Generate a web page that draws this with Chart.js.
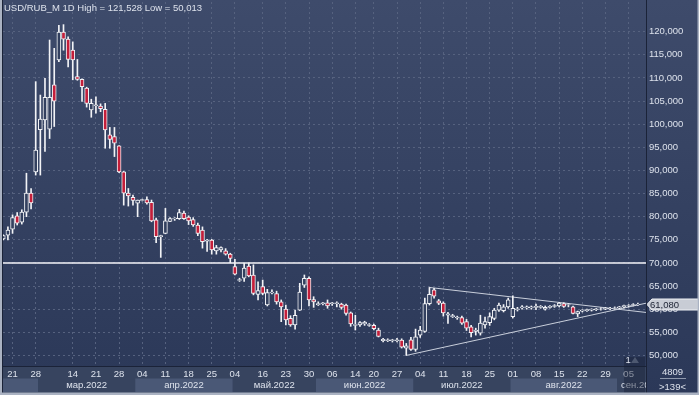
<!DOCTYPE html>
<html lang="ru">
<head>
  <meta charset="UTF-8" />
  <title>USD/RUB_M 1D</title>
  <script src="https://cdn.jsdelivr.net/npm/chart.js"></script>
  <style>
    html, body { margin: 0; padding: 0; background: #2f3c5c; }
    #wrap { width: 699px; height: 395px; position: relative; }
  </style>
</head>
<body>
  <div id="wrap"><canvas id="chart"></canvas></div>

  <script>
    // daily candles, prices in thousands of roubles (17.02.2022 .. 07.09.2022)
    const opens = [
      75.2, 76.0, 77.3, 80.2, 78.8, 81.0, 85.1, 89.7, 98.8, 100.9,
      98.9, 108.5, 113.9, 119.9, 118.4, 116.0, 110.3, 109.7, 107.8, 103.1,
      104.0, 103.9, 103.2, 97.7, 97.3, 95.3, 89.7, 85.1, 84.2, 82.9,
      83.5, 83.7, 83.1, 79.3, 75.7, 76.4, 79.0, 79.5, 79.6, 80.8,
      79.9, 79.4, 78.2, 77.1, 74.7, 74.96, 72.6, 72.8, 72.6, 71.9,
      69.2, 66.2, 66.7, 69.3, 67.4, 63.2, 64.9, 60.9, 63.5, 63.4,
      61.6, 60.0, 58.0, 56.6, 59.8, 65.2, 66.7, 62.1, 61.0, 61.2,
      61.4, 61.2, 61.2, 61.1, 60.9, 59.2, 56.5, 56.6, 56.8, 56.5,
      56.5, 55.5, 53.2, 53.2, 53.2, 53.2, 53.3, 51.6, 53.4, 51.3,
      54.4, 55.2, 61.2, 64.2, 61.8, 61.3, 58.7, 58.4, 58.1, 58.2,
      57.3, 56.2, 55.2, 54.8, 56.6, 57.1, 58.0, 59.8, 59.7, 60.5,
      58.4, 59.9, 60.3, 60.3, 60.3, 60.4, 60.4, 60.0, 60.4, 60.6,
      60.7, 61.2, 60.9, 60.5, 59.0, 59.6, 59.7, 59.8, 59.9, 60.0,
      60.0, 60.1, 60.2, 60.3, 60.5, 60.7, 60.8, 61.0
    ];
    const highs = [
      76.1, 77.8, 80.4, 80.9, 81.5, 89.4, 86.1, 109.2, 106.3, 109.9,
      118.2, 116.4, 121.4, 121.528, 118.9, 117.8, 114.0, 109.8, 108.0, 105.4,
      105.9, 104.4, 104.5, 99.3, 99.3, 95.4, 89.8, 86.1, 84.7, 83.6,
      83.8, 84.3, 83.6, 79.7, 76.0, 81.8, 79.8, 79.8, 81.6, 81.2,
      80.2, 79.8, 78.6, 77.8, 75.1, 75.1, 73.8, 73.5, 73.1, 72.1,
      70.8, 66.7, 69.9, 70.0, 69.6, 65.9, 66.3, 64.3, 64.2, 63.9,
      62.0, 60.9, 58.6, 59.8, 65.6, 67.4, 67.0, 62.7, 61.6, 61.5,
      62.0, 61.5, 61.6, 61.3, 61.1, 59.4, 58.7, 57.3, 57.4, 56.9,
      56.8, 55.9, 53.7, 53.6, 53.5, 53.7, 53.6, 52.6, 53.9, 55.7,
      56.3, 62.4, 64.7, 64.5, 62.1, 61.6, 59.3, 58.9, 58.5, 58.5,
      57.8, 56.5, 55.9, 58.7, 58.3, 59.2, 60.2, 61.3, 61.0, 62.4,
      62.9, 60.4, 60.8, 60.7, 60.7, 61.1, 60.8, 60.7, 60.8, 61.0,
      61.5, 61.4, 61.2, 60.7, 59.6, 59.9, 60.0, 60.1, 60.2, 60.3,
      60.4, 60.4, 60.5, 60.6, 60.9, 61.0, 61.2, 61.3
    ];
    const lows = [
      75.0, 75.0, 76.4, 78.2, 78.4, 80.0, 81.7, 89.0, 89.0, 94.1,
      96.9, 99.5, 113.5, 116.0, 112.4, 109.6, 109.5, 104.9, 103.7, 101.5,
      102.4, 102.7, 94.8, 94.8, 93.0, 89.5, 82.5, 82.3, 82.5, 80.0,
      83.4, 82.7, 78.9, 74.4, 71.2, 76.3, 78.9, 79.2, 79.4, 79.4,
      78.3, 77.9, 75.9, 73.2, 72.5, 71.9, 71.9, 72.4, 71.7, 70.05,
      67.4, 66.0, 66.0, 67.0, 63.1, 62.0, 63.1, 60.7, 63.3, 61.1,
      57.3, 56.6, 56.3, 55.7, 59.7, 64.7, 60.7, 60.4, 60.8, 60.9,
      60.2, 60.8, 60.5, 60.0, 58.7, 56.3, 55.5, 56.3, 56.5, 56.3,
      55.5, 54.0, 52.9, 53.0, 52.9, 52.9, 51.6, 50.013, 51.1, 50.9,
      53.9, 55.0, 60.9, 62.4, 61.0, 58.5, 56.9, 58.2, 57.8, 56.7,
      55.4, 54.0, 54.4, 54.4, 55.9, 56.5, 57.7, 59.5, 59.4, 60.2,
      58.1, 59.6, 60.0, 60.0, 60.0, 59.9, 60.2, 59.8, 60.2, 60.4,
      60.5, 60.4, 60.5, 59.0, 58.4, 59.4, 59.5, 59.6, 59.7, 59.8,
      59.9, 59.9, 60.0, 60.1, 60.3, 60.5, 60.7, 60.8
    ];
    const closes = [
      75.9, 77.1, 79.8, 78.6, 81.0, 85.1, 83.0, 94.4, 101.1, 105.8,
      105.8, 105.0, 119.9, 118.4, 114.0, 113.9, 109.7, 108.1, 104.5, 104.5,
      104.2, 103.35, 98.75, 96.7, 95.9, 89.7, 85.1, 84.5, 83.5, 83.6,
      83.7, 83.0, 79.1, 75.7, 75.9, 79.1, 79.6, 79.7, 80.9, 79.6,
      79.1, 78.2, 76.4, 74.6, 74.9, 72.8, 73.3, 73.3, 71.9, 71.0,
      67.6, 66.4, 68.9, 67.2, 63.4, 64.0, 63.4, 63.6, 63.7, 61.6,
      60.5, 57.7, 56.6, 58.7, 63.7, 66.7, 62.0, 61.6, 61.2, 61.4,
      60.7, 61.4, 61.4, 60.4, 59.1, 56.8, 56.7, 57.1, 57.2, 56.7,
      55.8, 54.1, 53.5, 53.4, 53.4, 53.4, 51.8, 52.1, 51.3, 54.0,
      55.5, 61.2, 63.2, 62.8, 61.3, 59.2, 59.0, 58.6, 58.3, 57.0,
      55.9, 54.9, 55.5, 57.0, 57.3, 58.4, 59.8, 60.9, 60.5, 62.0,
      60.2, 60.1, 60.5, 60.5, 60.5, 60.6, 60.6, 60.4, 60.6, 60.8,
      61.3, 60.6, 61.0, 59.1, 59.5, 59.8, 59.9, 60.0, 60.1, 60.1,
      60.2, 60.2, 60.3, 60.5, 60.8, 60.8, 61.0, 61.08
    ];

    // bottom axis: candle index of each labelled day and its text
    const tickIdx = [2, 7, 15, 20, 25, 30, 35, 40, 45, 50, 56, 61, 66, 71, 76, 80, 85,
                     90, 95, 100, 105, 110, 115, 120, 125, 130, 135];
    const tickText = ['21', '28', '14', '21', '28', '04', '11', '18', '25', '04', '16', '23', '30',
                      '06', '14', '20', '27', '04', '11', '18', '25', '01', '08', '15', '22', '29', '05'];
    // month bands: first candle of month and label
    const monthStart = [0, 8, 29, 50, 68, 89, 110, 133];
    const monthText = ['', 'мар.2022', 'апр.2022', 'май.2022', 'июн.2022', 'июл.2022', 'авг.2022', 'сен.2022'];
    const priceTicks = [50, 55, 60, 65, 70, 75, 80, 85, 90, 95, 100, 105, 110, 115, 120];

    // drawn lines: level and triangle
    const levelLine = 70;
    const triUpper = [[92, 64.7], [138.75, 59.3]];
    const triLower = [[87, 50.013], [138.75, 61.3]];
    const lastPrice = 61.08;

    const xMin = -0.06, xMax = 138.75;
    const BG = '#33405f', RED = '#c41e3a', FONT = 'Liberation Sans';
    const fmt = v => v.toFixed(3).replace('.', ',');

    Chart.defaults.font.family = FONT;
    Chart.defaults.font.size = 9.5;
    Chart.defaults.color = '#dde2ec';

    const idx = opens.map((_, i) => i);

    const bgPlugin = {
      id: 'bg',
      beforeDraw(chart) {
        const { ctx, width, height, chartArea: a } = chart;
        const x = chart.scales.x;
        ctx.save();
        const g = ctx.createLinearGradient(0, 0, 0, height);
        g.addColorStop(0, '#3e4b6b');
        g.addColorStop(1, '#2b3858');
        ctx.fillStyle = g;
        ctx.fillRect(0, 0, width, height);
        ctx.fillStyle = '#37445f';
        ctx.fillRect(0, a.bottom, a.right, height - a.bottom);
        // month bands
        ctx.beginPath();
        ctx.rect(a.left, a.bottom, a.right - a.left, height - a.bottom);
        ctx.clip();
        monthStart.forEach((s, k) => {
          if (k % 2 === 1) return;
          const e = k + 1 < monthStart.length ? monthStart[k + 1] : 160;
          const x0 = x.getPixelForValue(s - 0.5), x1 = x.getPixelForValue(e - 0.5);
          ctx.fillStyle = '#4a5876';
          ctx.fillRect(x0, 378.5, x1 - x0, 13.5);
        });
        ctx.restore();
      },
      afterDraw(chart) {
        const { ctx, width, height, chartArea: a } = chart;
        const x = chart.scales.x, y = chart.scales.y;
        ctx.save();
        ctx.font = '9.5px ' + FONT;
        ctx.fillStyle = '#dde2ec';
        ctx.textBaseline = 'middle';
        // month labels
        ctx.save();
        ctx.beginPath();
        ctx.rect(a.left, a.bottom, a.right - a.left, height - a.bottom);
        ctx.clip();
        monthStart.forEach((s, k) => {
          if (!monthText[k]) return;
          const e = k + 1 < monthStart.length ? monthStart[k + 1] : 160;
          const x0 = x.getPixelForValue(s - 0.5);
          const x1 = Math.min(x.getPixelForValue(e - 0.5), a.right);
          const tw = ctx.measureText(monthText[k]).width;
          const tx = Math.max(x0 + 4, (x0 + x1) / 2 - tw / 2);
          ctx.textAlign = 'left';
          ctx.fillText(monthText[k], tx, 385.5);
        });
        ctx.restore();

        // bar counter marker
        ctx.fillStyle = 'rgba(25,33,55,0.45)';
        ctx.fillRect(624, 357, 21, 36);
        ctx.fillStyle = 'rgba(120,130,150,0.5)';
        ctx.beginPath();
        ctx.moveTo(631, 363); ctx.lineTo(635, 357); ctx.lineTo(639, 363); ctx.fill();
        ctx.fillStyle = '#dde2ec';
        ctx.textAlign = 'left';
        ctx.fillText('1', 625.5, 360);

        // title
        ctx.fillText('USD/RUB_M 1D High = 121,528 Low = 50,013', 4, 8.5);

        // last price box
        const py = Math.round(y.getPixelForValue(lastPrice)) + 0.5;
        ctx.beginPath();
        ctx.moveTo(a.right + 1, py);
        ctx.lineTo(a.right + 6, py - 5.5);
        ctx.lineTo(width - 1, py - 5.5);
        ctx.lineTo(width - 1, py + 5.5);
        ctx.lineTo(a.right + 6, py + 5.5);
        ctx.closePath();
        ctx.fillStyle = '#c8ccd5';
        ctx.fill();
        ctx.strokeStyle = '#eef0f4';
        ctx.lineWidth = 1;
        ctx.stroke();
        ctx.fillStyle = '#1c2233';
        ctx.fillText(fmt(lastPrice), a.right + 4, py + 0.5);

        // corner counters
        ctx.fillStyle = '#dde2ec';
        ctx.textAlign = 'center';
        ctx.fillText('4809', 672.5, 372.5);
        ctx.fillText('>139<', 672.5, 387);
        ctx.strokeStyle = '#8e98ac';
        ctx.beginPath();
        ctx.moveTo(660, 378.5); ctx.lineTo(686, 378.5); ctx.stroke();

        // frame
        ctx.strokeStyle = '#1b2338';
        ctx.beginPath();
        ctx.moveTo(2.5, 0); ctx.lineTo(2.5, height);
        ctx.moveTo(a.right + 0.5, 0); ctx.lineTo(a.right + 0.5, height);
        ctx.stroke();
        ctx.fillStyle = '#aab2c2';
        ctx.fillRect(0, 0, 2, height);
        ctx.fillRect(0, height - 2.5, width, 2.5);
        ctx.fillRect(width - 1.5, 0, 1.5, height);
        ctx.restore();
      }
    };

    const ctx = document.getElementById('chart').getContext('2d');
    const chart = new Chart(ctx, {
      type: 'bar',
      data: {
        datasets: [
          {
            label: 'body',
            order: 0,
            grouped: false,
            data: idx.map(i => ({ x: i, y: [opens[i], closes[i]] })),
            backgroundColor: idx.map(i => closes[i] < opens[i] ? RED : BG),
            borderColor: '#f2f3f6',
            borderWidth: 1,
            borderSkipped: false,
            barThickness: 4
          },
          {
            label: 'wick',
            order: 1,
            grouped: false,
            data: idx.map(i => ({ x: i, y: [lows[i], highs[i]] })),
            backgroundColor: '#f2f3f6',
            borderWidth: 0,
            barThickness: 1
          },
          {
            type: 'line',
            label: 'level',
            order: 2,
            data: [{ x: xMin, y: levelLine }, { x: xMax, y: levelLine }],
            borderColor: '#f4f5f8',
            borderWidth: 1.5,
            pointRadius: 0
          },
          {
            type: 'line',
            label: 'upper',
            order: 2,
            data: triUpper.map(p => ({ x: p[0], y: p[1] })),
            borderColor: '#c9cfdb',
            borderWidth: 1,
            pointRadius: 0
          },
          {
            type: 'line',
            label: 'lower',
            order: 2,
            data: triLower.map(p => ({ x: p[0], y: p[1] })),
            borderColor: '#c9cfdb',
            borderWidth: 1,
            pointRadius: 0
          }
        ]
      },
      options: {
        responsive: true,
        maintainAspectRatio: false,
        animation: false,
        events: [],
        layout: { padding: { left: 3, top: 2, right: 0, bottom: 0 } },
        plugins: { legend: { display: false }, tooltip: { enabled: false } },
        scales: {
          x: {
            type: 'linear',
            min: xMin,
            max: xMax,
            offset: false,
            afterBuildTicks: s => { s.ticks = tickIdx.map(v => ({ value: v })); },
            afterFit: s => { s.height = 29; s.paddingLeft = 0; s.paddingRight = 0; },
            grid: { offset: false, color: '#56627f', drawTicks: false, lineWidth: 1 },
            border: { color: '#1b2338', dash: [2, 3] },
            ticks: {
              autoSkip: false,
              maxRotation: 0,
              padding: 3,
              color: '#dde2ec',
              callback: v => tickText[tickIdx.indexOf(v)] ?? ''
            }
          },
          y: {
            position: 'right',
            min: 47.72,
            max: 126.42,
            afterBuildTicks: s => { s.ticks = priceTicks.map(v => ({ value: v })); },
            afterFit: s => { s.width = 53; s.paddingTop = 0; s.paddingBottom = 0; },
            grid: { color: '#56627f', drawTicks: false, lineWidth: 1 },
            border: { color: '#1b2338', dash: [2, 3] },
            ticks: { padding: 3, color: '#dde2ec', callback: v => fmt(v) }
          }
        }
      },
      plugins: [bgPlugin]
    });
  </script>
</body>
</html>
